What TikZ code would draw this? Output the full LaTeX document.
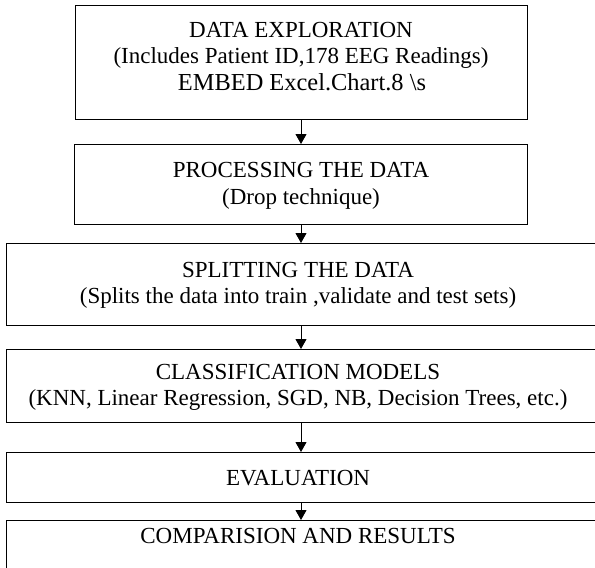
\documentclass[tikz,border=0pt]{standalone}
\usepackage{fontspec}
\setmainfont{Liberation Serif}
\usetikzlibrary{arrows.meta}
\begin{document}
\begin{tikzpicture}[x=1pt,y=-1pt,
  box/.style={draw,line width=1.3pt,inner sep=0pt,anchor=north west},
  txt/.style={anchor=base,inner sep=0pt,font=\fontsize{23}{26}\selectfont},
  bigtxt/.style={anchor=base,inner sep=0pt,font=\fontsize{24.4}{27}\selectfont},
  arr/.style={line width=1pt,-{Triangle[length=10pt,width=11pt]}}]
\useasboundingbox (0,0) rectangle (595,568);
\clip (0,0) rectangle (595,568);
% boxes
\node[box,minimum width=452pt,minimum height=114pt] (b1) at (75,5) {};
\node[box,minimum width=453pt,minimum height=80pt] (b2) at (74,144) {};
\node[box,minimum width=614pt,minimum height=82pt] (b3) at (6,243) {};
\node[box,minimum width=614pt,minimum height=73pt] (b4) at (6,349) {};
\node[box,minimum width=614pt,minimum height=50pt] (b5) at (6,452) {};
\node[box,minimum width=614pt,minimum height=100pt] (b6) at (6,520) {};
% texts
\node[txt] (t1a) at (301,37) {DATA EXPLORATION};
\node[txt] (t1b) at (301,63) {(Includes Patient ID,178 EEG Readings)};
\node[bigtxt] (t1c) at (302,90) {EMBED Excel.Chart.8 \textbackslash s};
\node[txt] (t2a) at (301,177) {PROCESSING THE DATA};
\node[txt] (t2b) at (301,204) {(Drop technique)};
\node[txt] (t3a) at (298,277) {SPLITTING THE DATA};
\node[txt] (t3b) at (298,303) {(Splits the data into train ,validate and test sets)};
\node[txt] (t4a) at (298,379) {CLASSIFICATION MODELS};
\node[txt] (t4b) at (298,405) {(KNN, Linear Regression, SGD, NB, Decision Trees, etc.)};
\node[txt] (t5) at (298,485) {EVALUATION};
\node[txt] (t6) at (298,543) {COMPARISION AND RESULTS};
% arrows
\coordinate (ax) at (301,0);
\draw[arr] (ax |- b1.south) -- (ax |- b2.north);
\draw[arr] (ax |- b2.south) -- (ax |- b3.north);
\draw[arr] (ax |- b3.south) -- (ax |- b4.north);
\draw[arr] (ax |- b4.south) -- (ax |- b5.north);
\draw[arr] (ax |- b5.south) -- (ax |- b6.north);
\end{tikzpicture}
\end{document}
